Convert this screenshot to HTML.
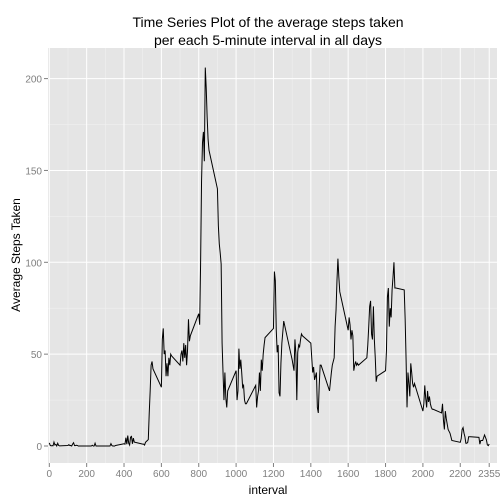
<!DOCTYPE html>
<html><head><meta charset="utf-8"><style>
body{margin:0;background:#fff}
svg{display:block;font-family:"Liberation Sans",sans-serif}
</style></head><body>
<svg id="chart" width="504" height="504" viewBox="0 0 504 504">
<rect x="0" y="0" width="504" height="504" fill="#fff"/>
<text x="268" y="27" font-size="14" text-anchor="middle">Time Series Plot of the average steps taken</text>
<text x="268" y="45" font-size="14" text-anchor="middle">per each 5-minute interval in all days</text>
<rect x="48" y="48" width="449" height="415" fill="#e5e5e5"/>
<g id="grid"></g>
<g id="axes"></g>
<path id="line" fill="none" stroke="#000" stroke-width="1"/>
<text x="268" y="494" font-size="12" text-anchor="middle">interval</text>
<text transform="translate(20,255) rotate(-90)" font-size="12" text-anchor="middle">Average Steps Taken</text>
</svg>
<script>
const avgSteps = [
1.7,0.3,0.1,0.2,0.1,2.1,0.5,0.9,0,1.5,0.3,0.1,
0.3,0.7,0.2,0.3,0,1.1,1.8,0.2,0.2,0.4,0.3,0,
0,0,0,0,0,0,0.4,0,0,1.5,0,0,
0,0,0,0,0,0,1.3,0.2,0,0,0,0.3,
1.2,1.0,4.5,1.0,5.7,1.5,0.5,4.8,5.2,1.2,4.3,2.1,
1,1,0.5,2,2.5,3,3.5,18,30,44,46,42,
32,58,64,50,52,38,45,38,48,44,50,49,
44,50,52,46,56,48,55,44,52,69,57,60,
72,66,100,144,165,171,155,206,195,179,167,161,
140,120,110,105,99,56,40,25,40,26,21,30,
41,25,30,53,42,47,40,32,33,25,23,23,
32,33,21,27,30,40,30,47,41,50,55,59,
64,95,90,63,51,55,29,27,45,56,62,68,
47,44,41,58,50,25,51,55,54,58,61,60,
56,48,40,43,36,38,40,21,18,33,44,44,
30,35,40,44,46,48,65,74,90,102,92,84,
63,70,66,58,63,60,41,44,46,44,45,44,
48,55,65,76,79,61,58,76,58,48,35,38,
41,52,81,86,65,75,70,85,92,100,86,86,
85,69,47,21,40,34,27,45,40,34,32,34,
19,23,33,26,21,30,24,27,23,21,20,20,
18,23,14,9,19,15,12,9,8,7,5,3,
2,4,9,10,7,5,1.5,1.5,2,5,5,5,
4.7,1,3,3,3,4.5,6,4.7,3.3,0.6,0.2,1.1
];
const xTicks = [0,200,400,600,800,1000,1200,1400,1600,1800,2000,2200,2355];
const yTicks = [0,50,100,150,200];

const NS = "http://www.w3.org/2000/svg";
const intervals = avgSteps.map((_, i) => Math.floor(i/12)*100 + (i%12)*5);
const xs = v => 49.3 + v*0.1868;
const ys = v => 446 - v*1.837;
const P = {l:48,r:497,t:48,b:463};
const grid = document.getElementById('grid');
const axes = document.getElementById('axes');
function mk(tag, attrs, parent){const e=document.createElementNS(NS,tag);for(const k in attrs)e.setAttribute(k,attrs[k]);parent.appendChild(e);return e;}
for(let i=0;i<yTicks.length-1;i++){
  const y=ys((yTicks[i]+yTicks[i+1])/2);
  const g=mk('line',{x1:P.l,x2:P.r,y1:y,y2:y,stroke:'#f2f2f2','stroke-width':0.5},grid);
  
  
}
for(let i=0;i<xTicks.length-1;i++){
  const x=xs((xTicks[i]+xTicks[i+1])/2);
  const g=mk('line',{x1:x,x2:x,y1:P.t,y2:P.b,stroke:'#f2f2f2','stroke-width':0.5},grid);
  
  
}
yTicks.forEach(v=>{
  const y=ys(v);
  const g=mk('line',{x1:P.l,x2:P.r,y1:y,y2:y,stroke:'#fff','stroke-width':1},grid);
  
  
  const t=mk('line',{x1:P.l-4,x2:P.l,y1:y,y2:y,stroke:'#7f7f7f'},axes);
  
  
  const l=mk('text',{x:P.l-6,y:y+4,'font-size':10,fill:'#7f7f7f','text-anchor':'end'},axes);
  l.textContent=v;
  
  
});
xTicks.forEach(v=>{
  const x=xs(v);
  const g=mk('line',{x1:x,x2:x,y1:P.t,y2:P.b,stroke:'#fff','stroke-width':1},grid);
  
  
  const t=mk('line',{x1:x,x2:x,y1:P.b,y2:P.b+4,stroke:'#7f7f7f'},axes);
  
  
  const l=mk('text',{x:x,y:P.b+14,'font-size':10,fill:'#7f7f7f','text-anchor':'middle'},axes);
  l.textContent=v;
  
  
});
document.getElementById('line').setAttribute('d',
  avgSteps.map((v,i)=>(i?'L':'M')+xs(intervals[i]).toFixed(2)+','+ys(v).toFixed(2)).join(''));
</script>
</body></html>
